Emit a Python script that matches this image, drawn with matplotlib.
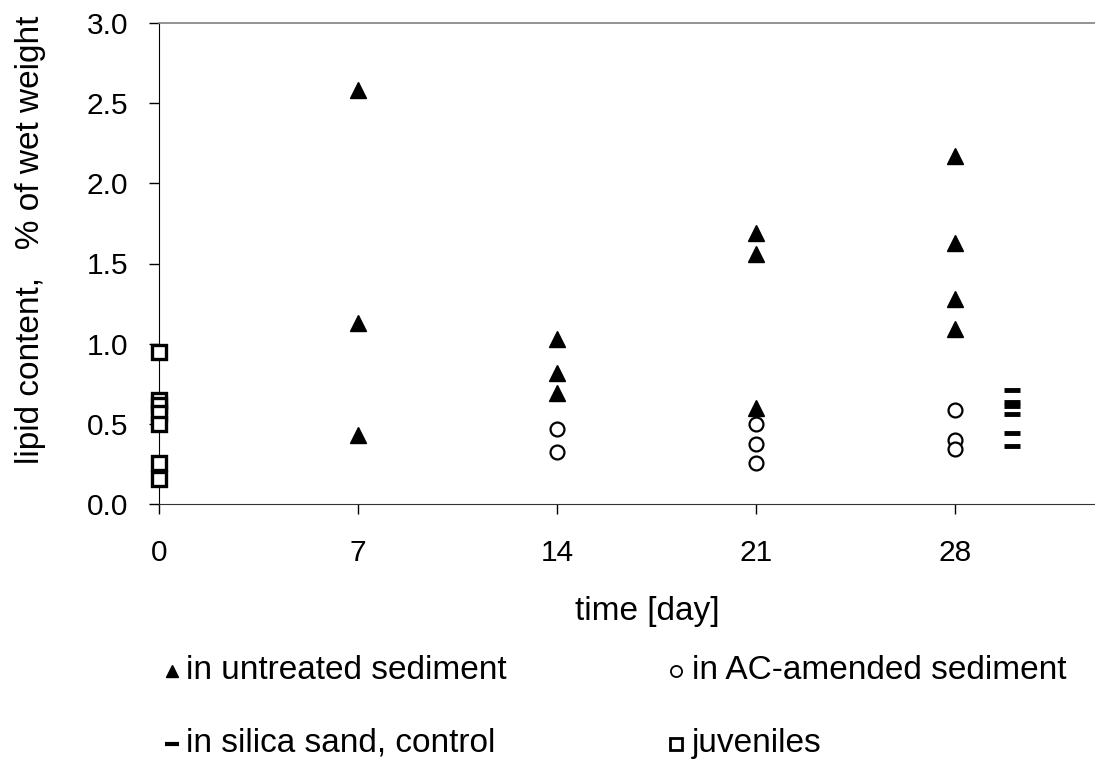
import matplotlib
matplotlib.use("Agg")
import matplotlib.pyplot as plt
from matplotlib.lines import Line2D

plt.rcParams['font.family'] = ['Liberation Sans', 'DejaVu Sans']

# data
untreated_x = [7, 7, 7, 14, 14, 14, 21, 21, 21, 28, 28, 28, 28]
untreated_y = [2.58, 1.13, 0.43, 1.03, 0.82, 0.69, 1.69, 1.56, 0.60, 2.17, 1.625, 1.28, 1.09]
ac_x = [14, 14, 21, 21, 21, 28, 28, 28]
ac_y = [0.47, 0.325, 0.50, 0.375, 0.256, 0.585, 0.40, 0.345]
silica_x = [30, 30, 30, 30, 30, 30]
silica_y = [0.71, 0.635, 0.61, 0.56, 0.44, 0.36]
juv_x = [0, 0, 0, 0, 0, 0, 0]
juv_y = [0.946, 0.65, 0.62, 0.57, 0.50, 0.254, 0.155]
xticks = [0, 7, 14, 21, 28]
yticks = [0.0, 0.5, 1.0, 1.5, 2.0, 2.5, 3.0]
legend_labels = ['in untreated sediment', 'in AC-amended sediment',
                 'in silica sand, control', 'juveniles']

W, H = 1095, 771
fig = plt.figure(figsize=(W / 100, H / 100), dpi=100)
ax = fig.add_axes([159 / W, (H - 504) / H, 1 - 159 / W, 481 / H])

ax.plot(untreated_x, untreated_y, linestyle='none', marker='^', ms=11,
        mfc='black', mec='black', clip_on=False)
ax.plot(silica_x, silica_y, linestyle='none', marker='_', ms=12, mew=3.5,
        color='black', clip_on=False)
ax.plot(ac_x, ac_y, linestyle='none', marker='o', ms=10, mfc='white',
        mec='black', mew=1.6, clip_on=False)
ax.plot(juv_x, juv_y, linestyle='none', marker='s', ms=10, mfc='white',
        mec='black', mew=2.4, clip_on=False, zorder=5)

ax.set_xlim(0, (W - 159) / (199 / 7))
ax.set_ylim(0, 3.0)
ax.set_xticks(xticks)
ax.set_yticks(yticks)
ax.set_yticklabels([f"{v:.1f}" for v in yticks])
ax.tick_params(axis='y', direction='out', length=7, width=1, pad=15, labelsize=21.5)
ax.tick_params(axis='x', direction='out', length=7, width=1, pad=18, labelsize=21.5)

ax.spines['right'].set_visible(False)
ax.spines['top'].set_color('#808080')
ax.spines['top'].set_linewidth(1.2)
ax.spines['left'].set_color('black')
ax.spines['bottom'].set_color('#333333')

def fx(px):
    return px / W

def fy(py):
    return 1 - py / H

fig.text(fx(647), fy(620), 'time [day]', fontsize=24, ha='center', va='baseline')
fig.text(fx(31), fy(240), 'lipid content,   % of wet weight', rotation=90,
         fontsize=24, ha='center', va='center')

# legend (manual)
rows = [679, 752]
col_marker = [172, 676]
col_text = [186, 692]
specs = [
    dict(marker='^', ms=8, mfc='black', mec='black'),
    dict(marker='o', ms=8, mfc='white', mec='black', mew=1.3),
    dict(marker='_', ms=10, mew=3, color='black'),
    dict(marker='s', ms=8, mfc='white', mec='black', mew=2),
]
for i, (lab, sp) in enumerate(zip(legend_labels, specs)):
    r, c = divmod(i, 2)
    fig.add_artist(Line2D([fx(col_marker[c])], [fy(rows[r] - 8)],
                          transform=fig.transFigure, linestyle='none', **sp))
    fig.text(fx(col_text[c]), fy(rows[r]), lab, fontsize=24, ha='left', va='baseline')

fig.savefig('out.png', dpi=100)
